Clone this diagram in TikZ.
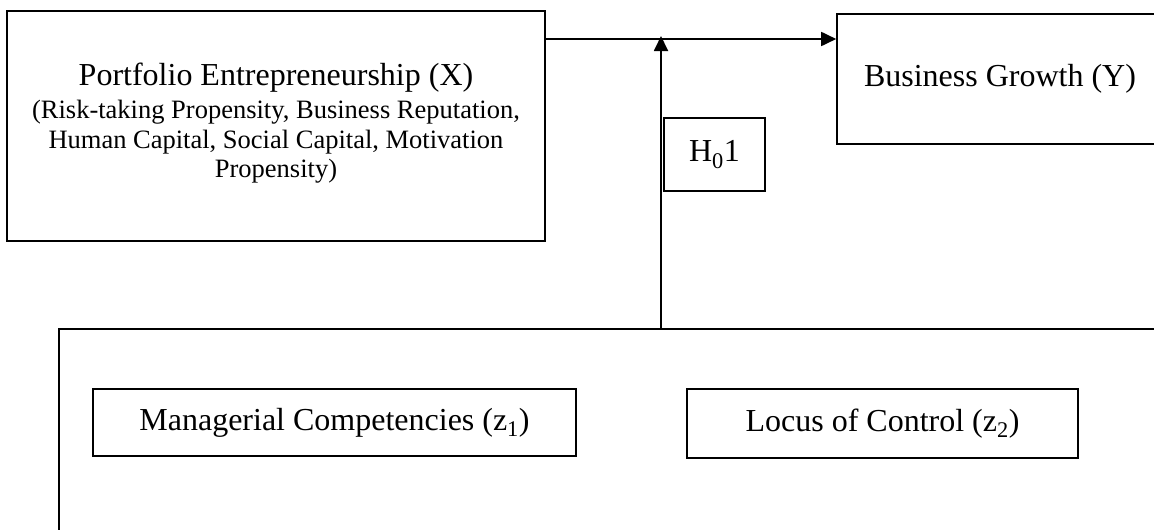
\documentclass[tikz,border=0pt]{standalone}
\usepackage{fontspec}
\setmainfont{Liberation Serif}
\usetikzlibrary{arrows.meta}

\begin{document}
\begin{tikzpicture}[x=1pt, y=-1pt,
	box/.style={draw=black, line width=1.6pt, rectangle, inner sep=0pt, align=center, font=\fontsize{32}{38}\selectfont},
	arr/.style={line width=1.8pt, -{Triangle[length=15pt, width=14pt]}}]
			\useasboundingbox (0,0) rectangle (1154,530);
			\clip (0,0) rectangle (1154,530);
			\node[box, font=\fontsize{26.5}{29.5}\selectfont, minimum width=538pt, minimum height=230pt](px) at (276,126){{\fontsize{32}{38}\selectfont Portfolio Entrepreneurship (X)}\\[4pt]
				(Risk-taking Propensity, Business Reputation,\\
				Human Capital, Social Capital, Motivation\\
				Propensity)\rule[-12pt]{0pt}{12pt}};
			\node[box, minimum width=326pt, minimum height=130pt](by) at (1000,79){Business Growth (Y)};
			\node[box, minimum width=101pt, minimum height=73pt](h01) at (714.5,154.5){H\textsubscript{0}1};
			\node[box, minimum width=1142pt, minimum height=232pt, anchor=north west](mod) at (58,328){};
			\node[box, minimum width=483pt, minimum height=67pt](mc) at (334.5,422.5){Managerial Competencies (z\textsubscript{1})};
			\node[box, minimum width=391pt, minimum height=69pt](lc) at (882.5,423.5){Locus of Control (z\textsubscript{2})};
			\coordinate (joint) at (661,39);
			\draw[arr] (px.east |- joint) -- (by.west |- joint);
			\draw[arr] (joint |- mod.north) -- ([yshift=3pt]joint);
			\end{tikzpicture}
\end{document}
